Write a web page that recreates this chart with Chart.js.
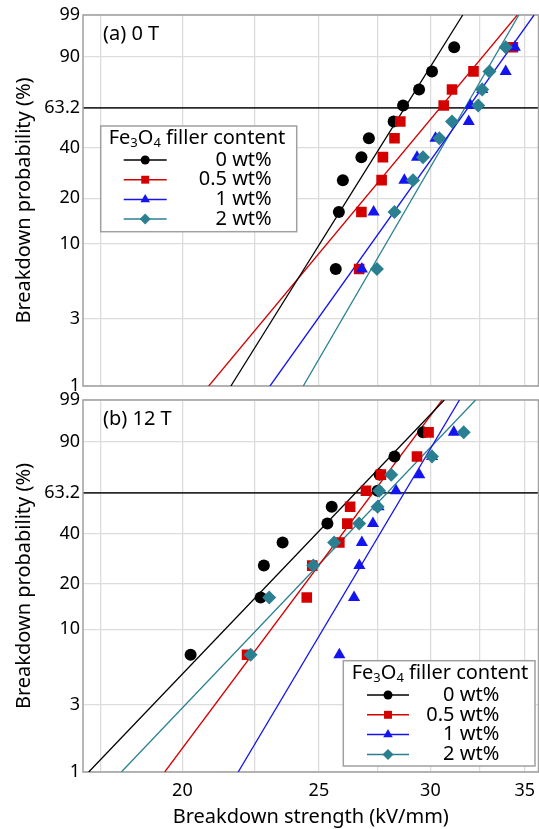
<!DOCTYPE html>
<html lang="en">
<head>
<meta charset="UTF-8">
<title>Weibull plots of breakdown strength</title>
<script src="https://cdn.jsdelivr.net/npm/chart.js@4"></script>
<style>
  body { margin: 0; background: #fff; }
  #wrap { position: relative; width: 539px; height: 829px; overflow: hidden; }
  canvas { position: absolute; left: 0; }
  #chartA { top: 0; }
  #chartB { top: 380px; }
</style>
</head>
<body>
<div id="wrap">
  <canvas id="chartA" width="539" height="400"></canvas>
  <canvas id="chartB" width="539" height="449"></canvas>
</div>
<script>
// series and axis values
const seriesLabels = ['0 wt%', '0.5 wt%', '1 wt%', '2 wt%'];
const seriesColors = ['#000000', '#d40000', '#1414f0', '#2a8090'];
const pointStyles = ['circle', 'rect', 'triangle', 'rectRot'];
const pointRadii = [6, 7.5, 7, 7];

// median ranks (%) of the 10 specimens
const rankProb = [6.7, 16.3, 26.0, 35.6, 45.2, 54.8, 64.4, 74.0, 83.7, 93.3];

// (a) 0 T, breakdown strength in kV/mm
const eb0T_0 = [25.70, 25.83, 26.00, 26.80, 27.13, 28.25, 28.69, 29.45, 30.08, 31.19];
const eb0T_05 = [26.70, 26.80, 27.70, 27.76, 28.29, 28.56, 30.66, 31.08, 32.19, 34.33];
const eb0T_1 = [26.82, 27.34, 28.75, 29.35, 30.25, 31.94, 32.03, 32.65, 33.93, 34.44];
const eb0T_2 = [27.49, 28.29, 29.16, 29.64, 30.44, 31.08, 32.44, 32.65, 33.04, 33.93];

// (b) 12 T
const eb12T_0 = [20.27, 22.73, 22.85, 23.56, 25.35, 25.53, 27.52, 27.61, 28.29, 29.64];
const eb12T_05 = [22.23, 24.51, 24.73, 25.85, 26.19, 26.31, 27.00, 27.67, 29.35, 29.91];
const eb12T_1 = [25.85, 26.48, 26.71, 26.82, 27.31, 27.56, 28.36, 29.46, 30.08, 31.17];
const eb12T_2 = [22.36, 23.05, 24.77, 25.63, 26.70, 27.52, 27.59, 28.14, 30.08, 31.68];

// fitted Weibull lines: strength at 1 % and 99 %
const fitProb = [1, 99];
const fit0T = [[21.65, 31.63], [20.88, 34.58], [23.08, 35.54], [24.37, 34.67]];
const fit12T = [[17.16, 30.69], [19.43, 30.58], [21.91, 31.46], [18.10, 32.30]];

const probTicks = [1, 3, 10, 20, 40, 63.2, 90, 99];
const xGridTicks = [17.5, 20, 22.5, 25, 27.5, 30, 32.5, 35];
const xTickLabels = [20, 25, 30, 35];

const FONT = 'Noto Sans';
const PLOT_RIGHT = 538;

// Weibull probability paper: ln(-ln(1 - F))
function weib(p) { return Math.log(-Math.log(1 - p / 100)); }

function buildDatasets(strengths, fits) {
  const sets = [];
  // points: teal on top, black at the bottom
  strengths.forEach((xs, i) => {
    sets.push({
      label: seriesLabels[i],
      data: xs.map((x, k) => ({ x: x, y: weib(rankProb[k]) })),
      showLine: false,
      pointStyle: pointStyles[i],
      pointRadius: pointRadii[i],
      pointHoverRadius: pointRadii[i],
      backgroundColor: seriesColors[i],
      borderColor: seriesColors[i],
      pointBorderWidth: 0,
      order: 3 - i
    });
  });
  fits.forEach((xs, i) => {
    sets.push({
      label: seriesLabels[i] + ' fit',
      data: xs.map((x, k) => ({ x: x, y: weib(fitProb[k]) })),
      showLine: true,
      pointRadius: 0,
      borderColor: seriesColors[i],
      borderWidth: 1.3,
      order: 4 + i
    });
  });
  return sets;
}

function drawMarker(ctx, style, x, y, r, color) {
  ctx.fillStyle = color;
  ctx.beginPath();
  if (style === 'circle') {
    ctx.arc(x, y, r, 0, Math.PI * 2);
  } else if (style === 'rect') {
    const s = r * Math.SQRT1_2;
    ctx.rect(x - s, y - s, 2 * s, 2 * s);
  } else if (style === 'triangle') {
    for (let k = 0; k < 3; k++) {
      const a = k * 2 * Math.PI / 3;
      const px = x + Math.sin(a) * r, py = y - Math.cos(a) * r;
      if (k === 0) ctx.moveTo(px, py); else ctx.lineTo(px, py);
    }
    ctx.closePath();
  } else {
    ctx.moveTo(x, y - r); ctx.lineTo(x + r, y); ctx.lineTo(x, y + r); ctx.lineTo(x - r, y);
    ctx.closePath();
  }
  ctx.fill();
}

const legendRadii = [4.5, 5.6, 5.5, 5.5];

function drawLegend(ctx, L) {
  ctx.save();
  ctx.fillStyle = '#fff';
  ctx.fillRect(L.x, L.y, L.w, L.h);
  ctx.strokeStyle = '#a0a0a0';
  ctx.lineWidth = 1.5;
  ctx.strokeRect(L.x, L.y, L.w, L.h);

  // title with subscripts
  const parts = [['Fe', 0], ['3', 1], ['O', 0], ['4', 1], [' filler content', 0]];
  let tx = L.x + L.titleX;
  ctx.fillStyle = '#000';
  ctx.textBaseline = 'middle';
  ctx.textAlign = 'left';
  parts.forEach(([t, sub]) => {
    ctx.font = (sub ? 13 : 20) + 'px "' + FONT + '"';
    ctx.fillText(t, tx, L.y + L.titleY + (sub ? 5 : 0));
    tx += ctx.measureText(t).width;
  });

  ctx.font = '20px "' + FONT + '"';
  ctx.textAlign = 'right';
  seriesLabels.forEach((lab, i) => {
    const cy = L.y + L.rowY + i * L.rowGap;
    ctx.strokeStyle = seriesColors[i];
    ctx.lineWidth = 1.5;
    ctx.beginPath();
    ctx.moveTo(L.x + L.lineX0, cy);
    ctx.lineTo(L.x + L.lineX1, cy);
    ctx.stroke();
    drawMarker(ctx, pointStyles[i], L.x + (L.lineX0 + L.lineX1) / 2, cy, legendRadii[i], seriesColors[i]);
    ctx.fillStyle = '#000';
    ctx.fillText(lab, L.x + L.textRight, cy);
  });
  ctx.restore();
}

// frame around the plot area, legend box and panel tag
function panelPlugin(tag, legend) {
  return {
    id: 'panel',
    beforeDatasetsDraw(chart) {
      const a = chart.chartArea, ctx = chart.ctx;
      ctx.save();
      ctx.strokeStyle = '#a0a0a0';
      ctx.lineWidth = 1.5;
      ctx.strokeRect(a.left, a.top, a.right - a.left, a.bottom - a.top);
      ctx.restore();
    },
    afterDraw(chart) {
      const a = chart.chartArea, ctx = chart.ctx;
      ctx.save();
      ctx.font = '20px "' + FONT + '"';
      ctx.fillStyle = '#000';
      ctx.textBaseline = 'middle';
      ctx.fillText(tag, a.left + 20, a.top + 19);
      ctx.restore();
      drawLegend(ctx, legend);
    }
  };
}

function chartConfig(strengths, fits, opts) {
  return {
    type: 'scatter',
    data: { datasets: buildDatasets(strengths, fits) },
    options: {
      responsive: false,
      animation: false,
      events: [],
      layout: { padding: opts.padding },
      plugins: { legend: { display: false }, tooltip: { enabled: false } },
      scales: {
        x: {
          type: 'logarithmic',
          min: 17,
          max: 35.8,
          afterBuildTicks: s => { s.ticks = xGridTicks.map(v => ({ value: v })); },
          afterFit: s => { s.height = opts.xHeight; s.paddingLeft = 0; s.paddingRight = 0; },
          ticks: {
            display: opts.showX,
            autoSkip: false,
            maxRotation: 0,
            padding: 8,
            color: '#000',
            font: { family: FONT, size: 18 },
            callback: v => xTickLabels.includes(v) ? String(v) : ''
          },
          grid: { color: '#dcdcdc', lineWidth: 1.3, drawTicks: false },
          border: { display: false },
          title: {
            display: opts.showX,
            text: 'Breakdown strength (kV/mm)',
            color: '#000',
            font: { family: FONT, size: 20 },
            padding: { top: 0, bottom: 0 }
          }
        },
        y: {
          type: 'linear',
          min: weib(probTicks[0]),
          max: weib(probTicks[probTicks.length - 1]),
          afterBuildTicks: s => { s.ticks = probTicks.map(p => ({ value: weib(p) })); },
          afterFit: s => { s.width = 83; s.paddingTop = 0; s.paddingBottom = 0; },
          ticks: {
            padding: 3,
            color: '#000',
            font: { family: FONT, size: 18 },
            callback: (v, i) => String(probTicks[i])
          },
          grid: {
            drawTicks: false,
            color: c => probTicks[c.index] === 63.2 ? '#2a2a2a' : '#dcdcdc',
            lineWidth: c => probTicks[c.index] === 63.2 ? 1.8 : 1.3
          },
          border: { display: false },
          title: {
            display: true,
            text: 'Breakdown probability (%)',
            color: '#000',
            font: { family: FONT, size: 20 },
            padding: { top: 12, bottom: 0 }
          }
        }
      }
    },
    plugins: [panelPlugin(opts.tag, opts.legend)]
  };
}

// tick-label overflow eats a few pixels on the right, so the canvas is
// widened (the wrapper clips it) until the plot frame ends at PLOT_RIGHT
function makeChart(id, strengths, fits, opts) {
  const canvas = document.getElementById(id);
  const h = canvas.height;
  let w = canvas.width;
  let chart = new Chart(canvas, chartConfig(strengths, fits, opts));
  for (let k = 0; k < 3; k++) {
    const extra = Math.round(PLOT_RIGHT - chart.chartArea.right);
    if (extra === 0) break;
    chart.destroy();
    w += extra;
    canvas.width = w;
    canvas.height = h;
    canvas.style.width = w + 'px';
    canvas.style.height = h + 'px';
    chart = new Chart(canvas, chartConfig(strengths, fits, opts));
  }
  return chart;
}

makeChart('chartA', [eb0T_0, eb0T_05, eb0T_1, eb0T_2], fit0T, {
  tag: '(a) 0 T',
  showX: false,
  xHeight: 0,
  padding: { top: 15, right: 1, bottom: 14, left: 0 },
  legend: { x: 100.7, y: 126, w: 196, h: 105.7, titleX: 8, titleY: 12.5,
            rowY: 34, rowGap: 19.7, lineX0: 23, lineX1: 66, textRight: 171 }
});

makeChart('chartB', [eb12T_0, eb12T_05, eb12T_1, eb12T_2], fit12T, {
  tag: '(b) 12 T',
  showX: true,
  xHeight: 57,
  padding: { top: 20, right: 1, bottom: 0, left: 0 },
  legend: { x: 343.3, y: 280.7, w: 191.7, h: 105.3, titleX: 8.4, titleY: 12.6,
            rowY: 34.3, rowGap: 19.8, lineX0: 23.7, lineX1: 65.7, textRight: 156 }
});
</script>
</body>
</html>
